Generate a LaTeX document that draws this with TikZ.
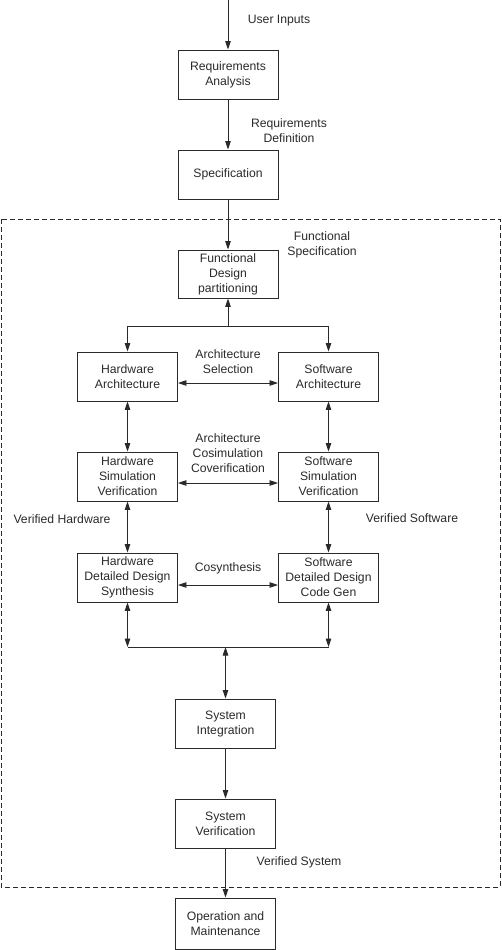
\documentclass[tikz,border=0pt]{standalone}
\usepackage{fontspec}
\setmainfont{Liberation Sans}
\usetikzlibrary{arrows.meta}
\definecolor{ink}{HTML}{2A2A2A}
\begin{document}
\begin{tikzpicture}[x=1pt,y=-1pt,
  txt/.style={font=\fontsize{12.2}{15}\selectfont, text=ink},
  box/.style={txt, draw=ink, line width=0.95pt, minimum width=100pt, minimum height=49pt, align=center, inner sep=0pt},
  lbl/.style={txt, align=center, inner sep=0pt},
  tip/.tip={Triangle[length=8.5pt,width=5.5pt]},
  conn/.style={draw=ink, line width=0.9pt, -tip},
  dconn/.style={draw=ink, line width=0.9pt, tip-tip},
  plain/.style={draw=ink, line width=0.9pt}]
\useasboundingbox (0,0) rectangle (501,950);
% frame
\draw[ink, line width=0.9pt, dash pattern=on 5pt off 3pt] (1,219) rectangle (500,887);
% nodes
\coordinate (top) at (228,0);
\node[box] (ra) at (228,74.5) {Requirements\\Analysis};
\node[box] (spec) at (228,174.5) {Specification};
\node[box, minimum height=48pt] (fdp) at (228,274) {Functional\\Design\\partitioning};
\node[box] (hwa) at (127.5,376.5) {Hardware\\Architecture};
\node[box] (swa) at (328.5,376.5) {Software\\Architecture};
\node[box] (hws) at (127.5,476.5) {Hardware\\Simulation\\Verification};
\node[box] (sws) at (328.5,476.5) {Software\\Simulation\\Verification};
\node[box] (hwd) at (127.5,577.5) {Hardware\\Detailed Design\\Synthesis};
\node[box] (swd) at (328.5,577.5) {Software\\Detailed Design\\Code Gen};
\node[box] (si) at (225.5,723.5) {System\\Integration};
\node[box] (sv) at (225.5,823.5) {System\\Verification};
\node[box, minimum height=51pt] (om) at (225.5,923.5) {Operation and\\Maintenance};
\coordinate (split) at (228,326);
\coordinate (bus) at (228,647);
% labels
\node[lbl] (l1) at (279,21) {User Inputs};
\node[lbl] (l2) at (289,130.5) {Requirements\\Definition};
\node[lbl] (l3) at (322,244.5) {Functional\\Specification};
\node[lbl] (l4) at (228,361.5) {Architecture\\Selection};
\node[lbl] (l5) at (228,453) {Architecture\\Cosimulation\\Coverification};
\node[lbl] (l6) at (228,568) {Cosynthesis};
\node[lbl] (l7) at (62,519) {Verified Hardware};
\node[lbl] (l8) at (412,518) {Verified Software};
\node[lbl] (l9) at (299,862) {Verified System};
% connectors
\draw[conn] (top) -- (ra.north);
\draw[conn] (ra.south) -- (spec.north);
\draw[conn] (spec.south) -- (fdp.north);
\draw[conn] (split) -- (fdp.south);
\draw[plain] (hwa.north |- split) -- (swa.north |- split);
\draw[conn] (hwa.north |- split) -- (hwa.north);
\draw[conn] (swa.north |- split) -- (swa.north);
\draw[dconn] (hwa.east |- 0,383) -- (swa.west |- 0,383);
\draw[dconn] (hws.east |- 0,483) -- (sws.west |- 0,483);
\draw[dconn] (hwd.east |- 0,585) -- (swd.west |- 0,585);
\draw[dconn] (hwa.south) -- (hws.north);
\draw[dconn] (swa.south) -- (sws.north);
\draw[dconn] (hws.south) -- (hwd.north);
\draw[dconn] (sws.south) -- (swd.north);
\draw[plain] (hwd.south |- bus) -- (swd.south |- bus);
\draw[dconn] (hwd.south) -- (hwd.south |- bus);
\draw[dconn] (swd.south) -- (swd.south |- bus);
\draw[dconn] (si.north |- bus) -- (si.north);
\draw[conn] (si.south) -- (sv.north);
\draw[conn] (sv.south) -- (om.north);
\end{tikzpicture}
\end{document}
